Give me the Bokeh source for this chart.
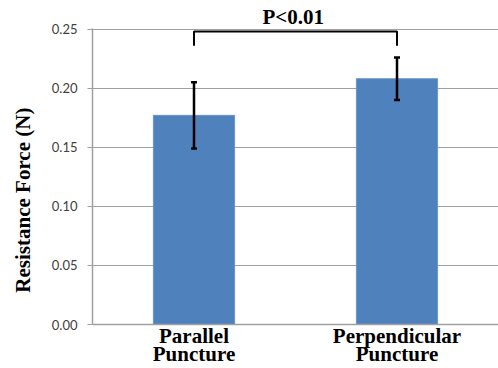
from bokeh.plotting import figure
from bokeh.models import ColumnDataSource, Whisker, FixedTicker, Range1d, TeeHead
from bokeh.embed import file_html
from bokeh.resources import INLINE

categories = ["Parallel\nPuncture", "Perpendicular\nPuncture"]
means = [0.177, 0.208]
upper = [0.205, 0.226]
lower = [0.149, 0.190]
bracket_y = 0.248
bracket_drop = 0.236
p_label = "P<0.01"
y_ticks = [0.0, 0.05, 0.10, 0.15, 0.20, 0.25]

xs = [i + 0.5 for i in range(len(categories))]

p = figure(width=498, height=368, output_backend="svg", toolbar_location=None,
           x_range=Range1d(0, 2), y_range=Range1d(0, 0.2505),
           min_border_left=92, min_border_right=0, min_border_top=28, min_border_bottom=0)
p.outline_line_color = None
p.background_fill_color = "white"
p.border_fill_color = "white"

# significance label as title (outside the frame)
p.title.text = p_label
p.title.align = "left"
p.title.offset = 170
p.title.standoff = 0
p.title.text_line_height = 0.75
p.title.text_font = "Liberation Serif"
p.title.text_font_style = "bold"
p.title.text_font_size = "21px"
p.title.text_color = "black"

src = ColumnDataSource(dict(x=xs, top=means, upper=upper, lower=lower))
p.vbar(x="x", top="top", width=0.4, source=src, fill_color="#4F81BD", line_color="#6A95C9", line_width=1)

w = Whisker(base="x", upper="upper", lower="lower", source=src, line_color="black", line_width=2.5,
            upper_head=TeeHead(size=6, line_color="black", line_width=2.5),
            lower_head=TeeHead(size=6, line_color="black", line_width=2.5),
            level="annotation")
p.add_layout(w)

# significance bracket
p.line(x=[xs[0], xs[0], xs[1], xs[1]], y=[bracket_drop, bracket_y, bracket_y, bracket_drop],
       line_color="black", line_width=2)

# x axis
p.xaxis.ticker = FixedTicker(ticks=xs)
p.xaxis.major_label_overrides = {x: c for x, c in zip(xs, categories)}
p.xaxis.major_label_text_font = "Liberation Serif"
p.xaxis.major_label_text_font_style = "bold"
p.xaxis.major_label_text_font_size = "21px"
p.xaxis.major_label_text_color = "black"
p.xaxis.major_label_text_line_height = 0.75
p.xaxis.major_label_standoff = -7
p.xaxis.major_tick_line_color = None
p.xaxis.minor_tick_line_color = None
p.xaxis.axis_line_color = "#A0A0A0"
p.xaxis.axis_line_width = 1.5

# y axis
p.yaxis.ticker = FixedTicker(ticks=y_ticks)
p.yaxis.major_label_overrides = {t: f"{t:.2f}" for t in y_ticks}
p.yaxis.major_label_text_font = "Lato"
p.yaxis.major_label_text_font_size = "13px"
p.yaxis.major_label_text_color = "#404040"
p.yaxis.major_label_standoff = 10
p.yaxis.major_tick_in = 0
p.yaxis.major_tick_out = 5
p.yaxis.major_tick_line_color = "#A0A0A0"
p.yaxis.minor_tick_line_color = None
p.yaxis.axis_line_color = "#A0A0A0"
p.yaxis.axis_line_width = 1.5
p.yaxis.axis_label = "Resistance Force (N)" + "\u00a0" * 9
p.yaxis.axis_label_text_font = "Liberation Serif"
p.yaxis.axis_label_text_font_style = "bold"
p.yaxis.axis_label_text_font_size = "21px"
p.yaxis.axis_label_text_color = "black"
p.yaxis.axis_label_standoff = 14

p.xgrid.grid_line_color = None
p.ygrid.grid_line_color = "#A0A0A0"
p.ygrid.grid_line_width = 1.2

open("out.html", "w").write(file_html(p, INLINE))
